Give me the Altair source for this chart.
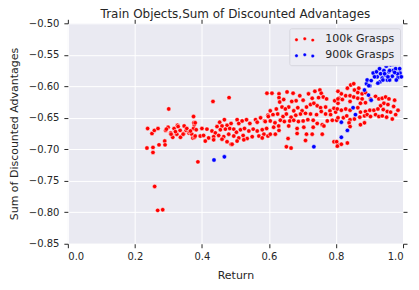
import altair as alt
import pandas as pd

# ---- data: (Return, Sum of Discounted Advantages)
red_points = [
    (0.236, -0.698), (0.238, -0.667), (0.251, -0.675), (0.254, -0.697), (0.254, -0.705),
    (0.258, -0.670), (0.269, -0.667), (0.272, -0.693), (0.259, -0.759), (0.268, -0.797),
    (0.283, -0.796), (0.289, -0.687), (0.290, -0.693), (0.292, -0.670), (0.299, -0.665),
    (0.301, -0.636), (0.307, -0.674), (0.313, -0.681), (0.317, -0.667), (0.325, -0.676),
    (0.327, -0.662), (0.329, -0.664), (0.335, -0.670), (0.336, -0.681), (0.345, -0.675),
    (0.347, -0.663), (0.353, -0.670), (0.355, -0.667), (0.361, -0.674), (0.363, -0.672),
    (0.370, -0.676), (0.373, -0.682), (0.375, -0.648), (0.375, -0.667), (0.377, -0.661),
    (0.378, -0.681), (0.294, -0.668), (0.308, -0.676), (0.321, -0.672), (0.344, -0.676),
    (0.366, -0.671), (0.376, -0.658),
    (0.433, -0.624), (0.481, -0.618), (0.388, -0.720), (0.487, -0.692),
    (0.380, -0.658), (0.467, -0.653), (0.453, -0.657), (0.445, -0.664), (0.460, -0.663),
    (0.475, -0.662), (0.487, -0.659), (0.505, -0.653), (0.510, -0.659), (0.520, -0.655),
    (0.533, -0.653), (0.543, -0.659), (0.560, -0.653), (0.565, -0.657), (0.575, -0.650),
    (0.587, -0.655), (0.597, -0.646), (0.383, -0.669), (0.400, -0.667), (0.415, -0.668),
    (0.430, -0.671), (0.440, -0.674), (0.455, -0.669), (0.470, -0.668), (0.483, -0.667),
    (0.495, -0.668), (0.503, -0.673), (0.515, -0.669), (0.527, -0.667), (0.540, -0.671),
    (0.553, -0.668), (0.565, -0.671), (0.580, -0.669), (0.593, -0.667), (0.380, -0.679),
    (0.395, -0.679), (0.405, -0.678), (0.420, -0.682), (0.435, -0.680), (0.450, -0.678),
    (0.465, -0.680), (0.480, -0.676), (0.495, -0.679), (0.510, -0.682), (0.523, -0.678),
    (0.535, -0.683), (0.550, -0.680), (0.570, -0.679), (0.585, -0.676), (0.597, -0.679),
    (0.410, -0.687), (0.435, -0.685), (0.460, -0.684), (0.475, -0.688), (0.505, -0.687),
    (0.525, -0.685), (0.580, -0.682), (0.490, -0.692),
    (0.594, -0.611), (0.609, -0.611), (0.630, -0.612), (0.630, -0.618), (0.654, -0.609),
    (0.672, -0.611), (0.692, -0.615), (0.718, -0.612), (0.737, -0.608), (0.752, -0.606),
    (0.756, -0.611), (0.762, -0.617), (0.772, -0.620), (0.748, -0.618), (0.729, -0.619),
    (0.702, -0.622), (0.681, -0.623), (0.668, -0.624), (0.644, -0.621), (0.632, -0.625),
    (0.659, -0.633), (0.639, -0.633), (0.649, -0.636), (0.622, -0.636), (0.604, -0.639),
    (0.674, -0.639), (0.686, -0.634), (0.699, -0.639), (0.712, -0.633), (0.724, -0.629),
    (0.734, -0.627), (0.744, -0.631), (0.754, -0.634), (0.769, -0.633), (0.782, -0.639),
    (0.794, -0.635), (0.806, -0.627), (0.796, -0.623), (0.809, -0.619), (0.598, -0.648),
    (0.612, -0.645), (0.626, -0.644), (0.642, -0.648), (0.652, -0.644), (0.666, -0.649),
    (0.680, -0.646), (0.694, -0.644), (0.709, -0.643), (0.724, -0.644), (0.742, -0.645),
    (0.756, -0.640), (0.769, -0.644), (0.784, -0.645), (0.799, -0.641), (0.589, -0.656),
    (0.604, -0.655), (0.618, -0.658), (0.634, -0.654), (0.646, -0.656), (0.662, -0.655),
    (0.674, -0.654), (0.688, -0.656), (0.702, -0.655), (0.716, -0.653), (0.732, -0.654),
    (0.744, -0.659), (0.759, -0.661), (0.774, -0.655), (0.789, -0.654), (0.802, -0.654),
    (0.614, -0.665), (0.629, -0.663), (0.659, -0.663), (0.684, -0.667), (0.704, -0.665),
    (0.732, -0.665), (0.764, -0.663), (0.604, -0.676), (0.619, -0.676), (0.630, -0.670),
    (0.684, -0.675), (0.712, -0.676), (0.729, -0.676), (0.759, -0.676), (0.657, -0.683),
    (0.709, -0.686), (0.794, -0.688), (0.806, -0.693), (0.652, -0.696), (0.666, -0.698),
    (0.844, -0.598), (0.853, -0.596), (0.834, -0.603), (0.855, -0.606), (0.868, -0.603),
    (0.865, -0.610), (0.878, -0.612), (0.888, -0.610), (0.806, -0.608), (0.816, -0.612),
    (0.829, -0.615), (0.842, -0.615), (0.853, -0.617), (0.865, -0.619), (0.878, -0.620),
    (0.806, -0.620), (0.819, -0.621), (0.842, -0.624), (0.873, -0.627), (0.888, -0.626),
    (0.903, -0.620), (0.918, -0.616), (0.928, -0.620), (0.938, -0.619), (0.948, -0.617),
    (0.958, -0.620), (0.943, -0.627), (0.955, -0.629), (0.933, -0.631), (0.804, -0.636),
    (0.816, -0.638), (0.829, -0.636), (0.842, -0.638), (0.865, -0.634), (0.873, -0.641),
    (0.888, -0.640), (0.901, -0.638), (0.913, -0.638), (0.925, -0.636), (0.941, -0.637),
    (0.953, -0.640), (0.963, -0.641), (0.806, -0.650), (0.822, -0.650), (0.832, -0.647),
    (0.842, -0.653), (0.855, -0.652), (0.871, -0.649), (0.885, -0.647), (0.893, -0.645),
    (0.903, -0.648), (0.918, -0.645), (0.928, -0.648), (0.938, -0.647), (0.951, -0.649),
    (0.839, -0.658), (0.842, -0.664), (0.873, -0.661), (0.885, -0.658), (0.802, -0.688),
    (0.816, -0.692), (0.834, -0.690), (0.804, -0.695),
    (0.972, -0.632), (0.978, -0.645), (0.985, -0.638), (0.968, -0.652), (0.975, -0.622),
]

blue_points = [
    (0.436, -0.717), (0.467, -0.712), (0.734, -0.696), (0.816, -0.681), (0.834, -0.670),
    (0.816, -0.657), (0.858, -0.645), (0.851, -0.634), (0.905, -0.622), (0.897, -0.614),
    (0.885, -0.606), (0.901, -0.599), (0.891, -0.596), (0.893, -0.590), (0.905, -0.591),
    (0.923, -0.585), (0.931, -0.593), (0.938, -0.587), (0.953, -0.590), (0.985, -0.586),
    (0.991, -0.579), (0.983, -0.580), (0.968, -0.584), (0.948, -0.582), (0.911, -0.579),
    (0.921, -0.577), (0.933, -0.580), (0.943, -0.575), (0.958, -0.577), (0.971, -0.575),
    (0.978, -0.572), (0.963, -0.566), (0.930, -0.572), (0.950, -0.568), (0.960, -0.575),
    (0.975, -0.578), (0.990, -0.572), (0.995, -0.585), (0.940, -0.590), (0.915, -0.585),
    (0.960, -0.590), (0.980, -0.590), (0.945, -0.580), (0.970, -0.565), (0.925, -0.595),
    (0.955, -0.585), (0.898, -0.599),
]

groups = ["100k Grasps", "900k Grasps"]
group_colors = ["#FF0000", "#0000FF"]
x_ticks = [0.0, 0.2, 0.4, 0.6, 0.8, 1.0]
y_ticks = [-0.85, -0.80, -0.75, -0.70, -0.65, -0.60, -0.55, -0.50]

rows = [{"Return": x, "Adv": y, "group": groups[0]} for x, y in red_points]
rows += [{"Return": x, "Adv": y, "group": groups[1]} for x, y in blue_points]
df = pd.DataFrame(rows)

TXT = "#262626"
FONT = "DejaVu Sans"


def dot(cx, cy, r):
    return f"M{cx - r},{cy} a{r},{r} 0 1,0 {2 * r},0 a{r},{r} 0 1,0 {-2 * r},0 Z "


legend_path = dot(-0.66, 0.2, 0.34) + dot(1.0, 0.0, 0.34) + dot(2.6, 0.27, 0.34)

xscale = alt.Scale(domain=[0, 1], nice=False, zero=False)
yscale = alt.Scale(domain=[-0.85, -0.50], nice=False, zero=False)

points = alt.Chart(df).mark_circle(
    size=20, opacity=1, stroke="white", strokeWidth=0.5
).encode(
    x=alt.X("Return:Q", scale=xscale, title="Return",
            axis=alt.Axis(values=x_ticks, format=".1f", orient="bottom", grid=True,
                          labelPadding=4, titlePadding=8)),
    y=alt.Y("Adv:Q", scale=yscale, title="Sum of Discounted Advantages",
            axis=alt.Axis(values=y_ticks, format=".2f", orient="left", grid=True,
                          labelPadding=5, titlePadding=9)),
    color=alt.Color("group:N", scale=alt.Scale(domain=groups, range=group_colors),
                    legend=alt.Legend(title=None, orient="none", legendX=222, legendY=5,
                                      symbolType=legend_path, symbolSize=100,
                                      symbolStrokeColor="white", symbolStrokeWidth=0.4,
                                      labelFontSize=11, labelOffset=20, rowPadding=4,
                                      padding=5, fillColor="#ECECF3", strokeColor="#D6D6DE",
                                      cornerRadius=2)),
)

frame_ticks = alt.Chart(df).mark_circle(opacity=0, size=0).encode(
    x=alt.X("Return:Q", scale=xscale, title=None,
            axis=alt.Axis(values=x_ticks, orient="top", labels=False, grid=False)),
    y=alt.Y("Adv:Q", scale=yscale, title=None,
            axis=alt.Axis(values=y_ticks, orient="right", labels=False, grid=False)),
)

chart = alt.layer(points, frame_ticks).resolve_axis(
    x="independent", y="independent"
).properties(
    width=336, height=221,
    title=alt.Title("Train Objects,Sum of Discounted Advantages", fontSize=12,
                    font=FONT, color=TXT, fontWeight="normal", offset=-3, anchor="middle"),
    autosize=alt.AutoSizeParams(type="none"),
    padding={"left": 60, "top": 15, "right": 8, "bottom": 38},
).configure_view(
    fill="#EAEAF2", stroke=None
).configure_axis(
    domain=False, tickSize=4, tickColor=TXT, tickWidth=1,
    gridColor="white", gridWidth=1,
    labelFont=FONT, labelFontSize=10, labelColor=TXT,
    titleFont=FONT, titleFontSize=11, titleColor=TXT, titleFontWeight="normal",
).configure_legend(
    labelFont=FONT, labelColor=TXT,
)

chart.save("out.html", embed_options={"renderer": "svg", "actions": False})
